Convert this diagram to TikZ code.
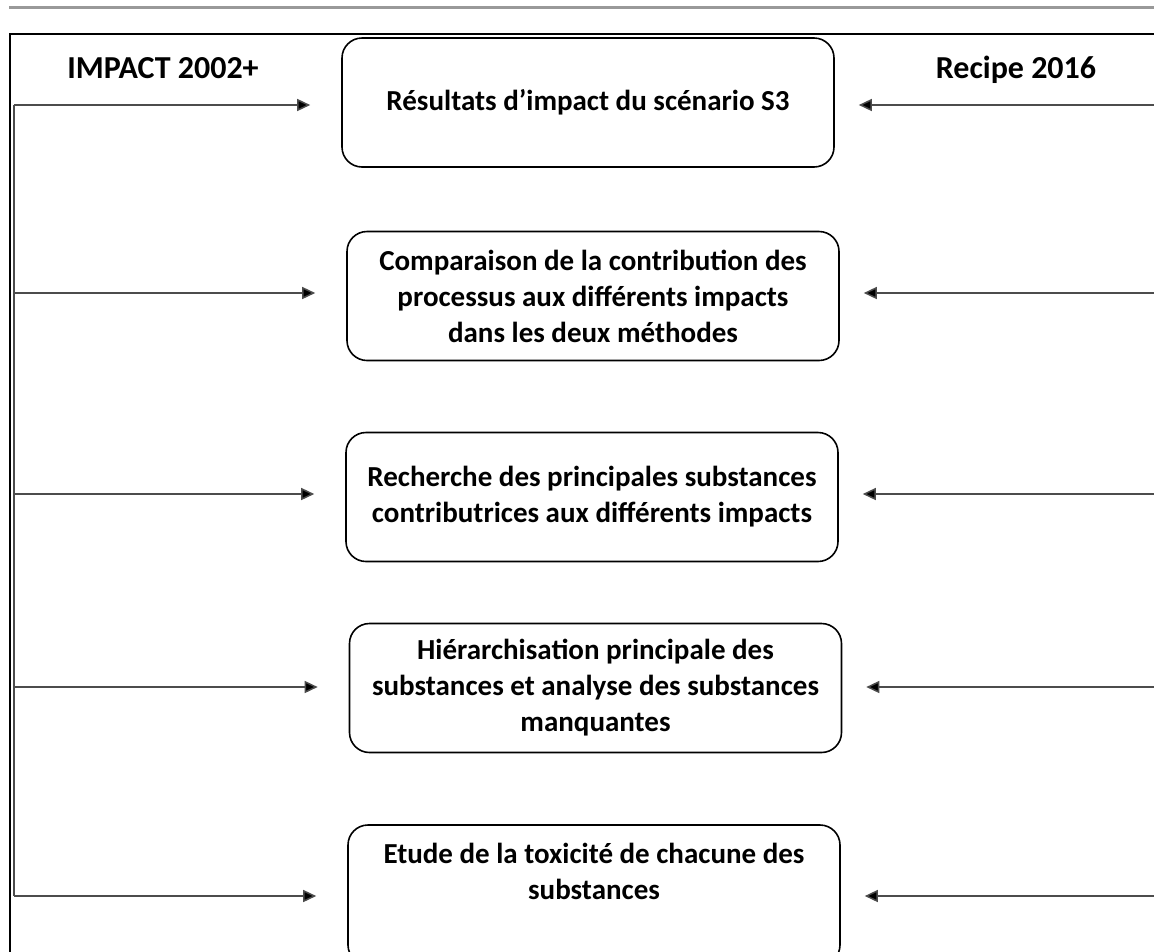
\documentclass[tikz,border=0pt]{standalone}
\usepackage{fontspec}
\setmainfont{Carlito}
\usetikzlibrary{arrows.meta}
\begin{document}
\begin{tikzpicture}[x=1pt,y=-1pt,
  box/.style={draw,line width=1.6pt,rounded corners=20pt,minimum width=492pt,minimum height=129pt,align=center,font=\bfseries\fontsize{29}{36}\selectfont},
  head/.style={anchor=base,font=\bfseries\fontsize{32}{36}\selectfont},
  flow/.style={draw=black!70,line width=1.5pt,-{Triangle[length=13pt,width=12pt,fill=black]}}]
  \useasboundingbox (0,0) rectangle (1154,951);
  \draw[black!40,line width=3pt] (9,7) -- (1154,7);
  \draw[line width=1.8pt] (1154,34) -- (10,34) -- (10,953);
  \node[head] (impact) at (163,78) {IMPACT 2002+};
  \node[head] (recipe) at (1016,78) {Recipe 2016};
  \node[box] (b1) at (588,102.5) {Résultats d’impact du scénario S3};
  \node[box] (b2) at (593,296) {Comparaison de la contribution des\\processus aux différents impacts\\dans les deux méthodes};
  \node[box] (b3) at (592,497) {Recherche des principales substances\\contributrices aux différents impacts};
  \node[box] (b4) at (595.5,688) {Hiérarchisation principale des\\substances et analyse des substances\\manquantes};
  \node[box,minimum height=140pt] (b5) at (594,895) {Etude de la toxicité de chacune des\\substances\\\strut};
  \coordinate (s1) at (14,105);
  \coordinate (s2) at (14,293);
  \coordinate (s3) at (14,494);
  \coordinate (s4) at (14,687);
  \coordinate (s5) at (14,896);
  \coordinate (r1) at (1154,105);
  \coordinate (r2) at (1154,293);
  \coordinate (r3) at (1154,494);
  \coordinate (r4) at (1154,687);
  \coordinate (r5) at (1154,896);
  \draw[black!70,line width=1.5pt] (s1) -- (s5);
  \foreach \i in {1,...,5} {
    \draw[flow,shorten >=31pt] (s\i) -- (s\i -| b\i.west);
    \draw[flow,shorten >=24pt] (r\i) -- (r\i -| b\i.east);
  }
\end{tikzpicture}
\end{document}
